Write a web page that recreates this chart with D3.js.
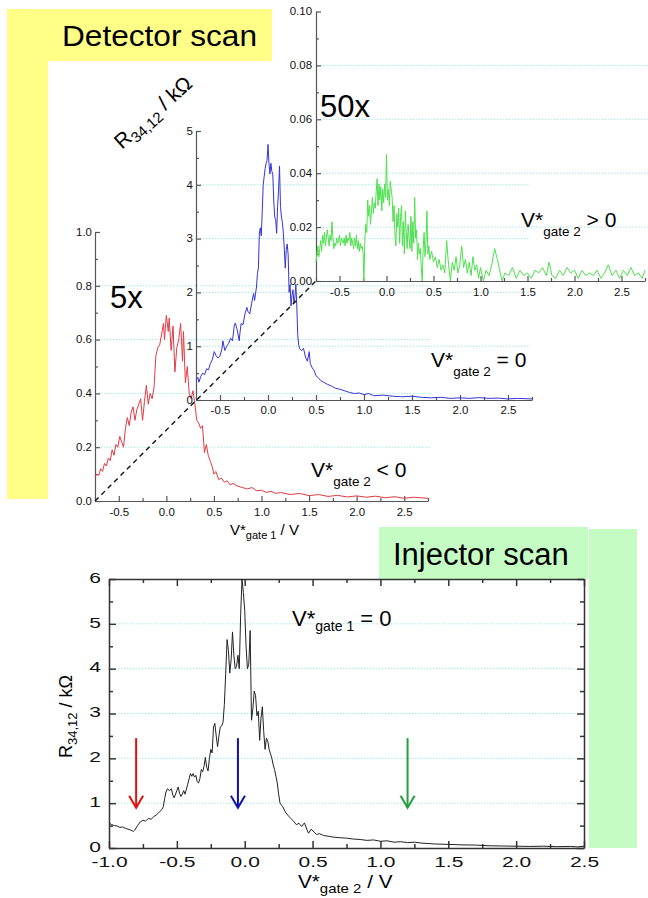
<!DOCTYPE html>
<html>
<head>
<meta charset="utf-8">
<script src="https://cdnjs.cloudflare.com/ajax/libs/d3/7.8.5/d3.min.js"></script>
<style>
  body { margin: 0; background: #fff; }
  svg { display: block; font-family: "Liberation Sans", Arial, sans-serif; }
</style>
</head>
<body>
<div id="fig"></div>
<script>
// ---- data: [V*, R in kOhm] ----

// detector scan, V*gate2 < 0 (red)
var redCurve = [[-0.75,0.09],[-0.73,0.10],[-0.71,0.095],[-0.69,0.12],[-0.67,0.11],[-0.65,0.14],[-0.63,0.13],[-0.61,0.16],[-0.59,0.15],[-0.57,0.19],[-0.55,0.17],[-0.53,0.21],[-0.51,0.20],[-0.49,0.24],[-0.47,0.22],[-0.45,0.20],[-0.43,0.27],[-0.41,0.31],[-0.39,0.28],[-0.37,0.33],[-0.35,0.35],[-0.33,0.30],[-0.31,0.34],[-0.29,0.36],[-0.27,0.38],[-0.25,0.30],[-0.23,0.37],[-0.21,0.43],[-0.19,0.36],[-0.17,0.40],[-0.15,0.38],[-0.13,0.42],[-0.11,0.54],[-0.09,0.57],[-0.07,0.58],[-0.05,0.62],[-0.03,0.66],[-0.02,0.60],[0.00,0.69],[0.02,0.63],[0.03,0.68],[0.05,0.56],[0.07,0.65],[0.09,0.48],[0.11,0.57],[0.13,0.60],[0.15,0.66],[0.17,0.52],[0.18,0.63],[0.20,0.44],[0.22,0.50],[0.24,0.40],[0.26,0.38],[0.28,0.41],[0.30,0.36],[0.32,0.30],[0.34,0.29],[0.36,0.27],[0.38,0.28],[0.40,0.18],[0.42,0.21],[0.44,0.17],[0.46,0.15],[0.48,0.13],[0.50,0.10],[0.52,0.11],[0.55,0.08],[0.58,0.085],[0.61,0.07],[0.64,0.075],[0.67,0.06],[0.70,0.065],[0.75,0.055],[0.80,0.05],[0.85,0.045],[0.90,0.05],[0.95,0.038],[1.00,0.04],[1.05,0.032],[1.10,0.036],[1.15,0.028],[1.20,0.032],[1.30,0.024],[1.40,0.028],[1.50,0.02],[1.60,0.024],[1.70,0.017],[1.80,0.021],[1.90,0.015],[2.00,0.019],[2.10,0.014],[2.20,0.018],[2.30,0.012],[2.40,0.016],[2.50,0.01],[2.60,0.014],[2.75,0.01]];

// detector scan, V*gate2 = 0 (blue)
var blueCurve = [[-0.75,0.37],[-0.73,0.42],[-0.72,0.33],[-0.70,0.44],[-0.68,0.50],[-0.66,0.47],[-0.64,0.58],[-0.62,0.56],[-0.60,0.68],[-0.58,0.75],[-0.56,0.90],[-0.54,0.82],[-0.52,0.78],[-0.50,0.82],[-0.48,0.95],[-0.47,1.10],[-0.45,0.92],[-0.43,1.00],[-0.41,1.05],[-0.39,1.15],[-0.37,1.10],[-0.35,1.40],[-0.34,1.43],[-0.32,1.30],[-0.30,1.10],[-0.29,1.28],[-0.28,1.42],[-0.26,1.40],[-0.24,1.60],[-0.22,1.72],[-0.21,1.65],[-0.19,1.60],[-0.17,1.80],[-0.15,1.98],[-0.14,1.85],[-0.12,2.10],[-0.11,2.35],[-0.10,2.45],[-0.09,3.10],[-0.08,3.20],[-0.07,3.05],[-0.06,3.50],[-0.05,4.00],[-0.04,4.15],[-0.03,4.30],[-0.02,4.40],[-0.01,4.45],[0.00,4.75],[0.01,4.40],[0.02,4.20],[0.03,4.40],[0.04,4.25],[0.05,4.20],[0.06,3.70],[0.07,3.40],[0.08,3.35],[0.09,3.10],[0.10,3.60],[0.11,3.90],[0.12,4.35],[0.13,3.60],[0.14,3.40],[0.15,3.30],[0.16,3.10],[0.17,2.80],[0.18,2.45],[0.19,2.80],[0.20,2.90],[0.21,2.70],[0.22,2.00],[0.23,2.15],[0.24,1.75],[0.25,1.95],[0.26,2.05],[0.27,1.80],[0.28,1.90],[0.29,2.15],[0.30,1.75],[0.31,1.20],[0.32,1.02],[0.33,0.95],[0.35,0.92],[0.37,0.96],[0.39,0.80],[0.41,0.72],[0.43,0.90],[0.44,0.68],[0.46,0.60],[0.48,0.55],[0.50,0.45],[0.52,0.42],[0.55,0.36],[0.58,0.33],[0.62,0.29],[0.66,0.26],[0.70,0.22],[0.75,0.20],[0.80,0.17],[0.85,0.14],[0.90,0.12],[0.95,0.13],[1.00,0.10],[1.05,0.12],[1.10,0.08],[1.20,0.09],[1.30,0.07],[1.40,0.06],[1.50,0.07],[1.60,0.05],[1.70,0.04],[1.80,0.05],[1.90,0.03],[2.00,0.04],[2.10,0.03],[2.20,0.045],[2.30,0.03],[2.40,0.035],[2.50,0.02],[2.60,0.03],[2.75,0.02]];

// detector scan, V*gate2 > 0 (green)
var greenCurve = [[-0.75,0.007],[-0.74,0.010],[-0.73,0.013],[-0.72,0.009],[-0.71,0.012],[-0.70,0.015],[-0.69,0.011],[-0.68,0.017],[-0.67,0.014],[-0.66,0.018],[-0.65,0.013],[-0.64,0.016],[-0.63,0.019],[-0.62,0.016],[-0.61,0.013],[-0.60,0.017],[-0.59,0.015],[-0.58,0.022],[-0.57,0.016],[-0.56,0.012],[-0.55,0.014],[-0.54,0.013],[-0.53,0.016],[-0.52,0.014],[-0.51,0.015],[-0.50,0.017],[-0.49,0.013],[-0.48,0.016],[-0.47,0.015],[-0.46,0.014],[-0.45,0.016],[-0.44,0.013],[-0.43,0.017],[-0.42,0.014],[-0.41,0.016],[-0.40,0.015],[-0.39,0.018],[-0.38,0.013],[-0.37,0.016],[-0.36,0.014],[-0.35,0.012],[-0.34,0.016],[-0.33,0.013],[-0.32,0.017],[-0.31,0.012],[-0.30,0.015],[-0.29,0.011],[-0.28,0.014],[-0.27,0.012],[-0.26,0.013],[-0.25,0.011],[-0.24,0.000],[-0.23,0.016],[-0.22,0.021],[-0.21,0.018],[-0.20,0.030],[-0.19,0.024],[-0.18,0.028],[-0.17,0.021],[-0.16,0.026],[-0.15,0.031],[-0.14,0.025],[-0.13,0.029],[-0.12,0.027],[-0.11,0.033],[-0.10,0.038],[-0.09,0.028],[-0.08,0.036],[-0.07,0.030],[-0.06,0.035],[-0.05,0.026],[-0.04,0.034],[-0.03,0.029],[-0.02,0.036],[-0.01,0.031],[0.00,0.047],[0.01,0.030],[0.02,0.034],[0.03,0.028],[0.04,0.037],[0.05,0.034],[0.06,0.031],[0.07,0.022],[0.08,0.028],[0.09,0.017],[0.10,0.013],[0.11,0.025],[0.12,0.020],[0.13,0.027],[0.14,0.014],[0.15,0.024],[0.16,0.028],[0.17,0.013],[0.18,0.022],[0.19,0.010],[0.20,0.026],[0.21,0.018],[0.22,0.012],[0.23,0.021],[0.24,0.016],[0.25,0.012],[0.26,0.024],[0.27,0.011],[0.28,0.022],[0.29,0.014],[0.30,0.031],[0.31,0.016],[0.32,0.019],[0.33,0.008],[0.34,0.014],[0.35,0.010],[0.36,0.012],[0.37,0.005],[0.38,0.000],[0.39,0.012],[0.40,0.018],[0.41,0.009],[0.42,0.014],[0.43,0.026],[0.44,0.010],[0.45,0.013],[0.46,0.008],[0.48,0.011],[0.50,0.007],[0.52,0.009],[0.54,0.005],[0.56,0.008],[0.58,0.004],[0.60,0.006],[0.62,0.003],[0.64,0.015],[0.66,0.006],[0.68,0.000],[0.70,0.007],[0.72,0.004],[0.74,0.009],[0.76,0.003],[0.78,0.006],[0.80,0.013],[0.82,0.005],[0.84,0.008],[0.86,0.003],[0.88,0.007],[0.90,0.002],[0.92,0.009],[0.94,0.004],[0.96,0.006],[0.98,0.001],[1.00,0.005],[1.03,0.000],[1.06,0.004],[1.09,0.002],[1.12,0.006],[1.15,0.012],[1.18,0.008],[1.21,0.003],[1.23,0.000],[1.26,0.003],[1.30,0.002],[1.34,0.005],[1.38,0.001],[1.42,0.004],[1.46,0.002],[1.50,0.003],[1.54,0.001],[1.58,0.004],[1.62,0.003],[1.66,0.005],[1.70,0.002],[1.73,0.007],[1.76,0.002],[1.80,0.001],[1.84,0.004],[1.88,0.002],[1.92,0.005],[1.96,0.003],[2.00,0.004],[2.04,0.001],[2.08,0.004],[2.12,0.002],[2.16,0.003],[2.20,0.002],[2.24,0.004],[2.28,0.001],[2.32,0.003],[2.36,0.006],[2.40,0.002],[2.44,0.004],[2.48,0.001],[2.52,0.004],[2.56,0.002],[2.60,0.005],[2.64,0.002],[2.68,0.003],[2.72,0.001],[2.75,0.004]];

// injector scan, V*gate1 = 0 (black)
var blackCurve = [[-1.00,0.56],[-0.98,0.52],[-0.96,0.50],[-0.94,0.49],[-0.92,0.46],[-0.90,0.47],[-0.88,0.44],[-0.86,0.42],[-0.84,0.40],[-0.82,0.37],[-0.81,0.40],[-0.79,0.50],[-0.77,0.58],[-0.75,0.62],[-0.73,0.60],[-0.71,0.66],[-0.69,0.64],[-0.67,0.70],[-0.65,0.74],[-0.63,0.80],[-0.61,0.86],[-0.60,0.92],[-0.59,1.10],[-0.58,1.25],[-0.57,1.32],[-0.555,1.28],[-0.54,1.32],[-0.53,1.18],[-0.52,1.12],[-0.50,1.28],[-0.49,1.36],[-0.48,1.22],[-0.47,1.15],[-0.46,1.20],[-0.45,1.28],[-0.44,1.20],[-0.42,1.42],[-0.40,1.66],[-0.39,1.60],[-0.38,1.66],[-0.37,1.58],[-0.36,1.62],[-0.35,1.48],[-0.34,1.45],[-0.33,1.55],[-0.32,1.75],[-0.31,1.70],[-0.30,1.82],[-0.29,2.02],[-0.28,1.80],[-0.27,1.72],[-0.26,2.00],[-0.25,2.20],[-0.24,2.12],[-0.23,2.70],[-0.22,2.78],[-0.21,2.50],[-0.20,2.26],[-0.19,2.50],[-0.18,2.70],[-0.17,2.72],[-0.16,2.80],[-0.15,3.20],[-0.14,3.90],[-0.13,4.65],[-0.12,4.40],[-0.11,3.90],[-0.10,4.20],[-0.09,4.82],[-0.08,4.30],[-0.07,4.00],[-0.06,4.05],[-0.05,4.30],[-0.04,4.00],[-0.03,5.20],[-0.02,6.00],[-0.01,5.70],[0.00,5.30],[0.01,4.50],[0.02,4.00],[0.03,4.10],[0.04,4.85],[0.05,2.85],[0.06,3.10],[0.07,3.50],[0.08,3.40],[0.09,2.95],[0.10,3.05],[0.11,2.40],[0.12,2.90],[0.13,3.15],[0.14,2.60],[0.15,2.20],[0.16,2.45],[0.17,2.38],[0.18,2.20],[0.19,2.10],[0.20,2.00],[0.21,1.85],[0.22,1.75],[0.23,1.60],[0.24,1.45],[0.25,1.20],[0.26,1.00],[0.28,0.92],[0.30,0.80],[0.32,0.72],[0.34,0.66],[0.36,0.60],[0.38,0.52],[0.40,0.55],[0.42,0.48],[0.44,0.56],[0.46,0.40],[0.47,0.33],[0.49,0.42],[0.51,0.36],[0.53,0.30],[0.55,0.32],[0.58,0.28],[0.62,0.26],[0.66,0.24],[0.70,0.23],[0.75,0.22],[0.80,0.20],[0.85,0.19],[0.90,0.17],[0.95,0.18],[1.00,0.15],[1.05,0.16],[1.10,0.13],[1.15,0.14],[1.20,0.12],[1.25,0.13],[1.30,0.11],[1.35,0.10],[1.40,0.09],[1.50,0.08],[1.60,0.07],[1.70,0.065],[1.80,0.05],[1.90,0.045],[2.00,0.04],[2.10,0.035],[2.20,0.04],[2.30,0.03],[2.40,0.035],[2.45,0.025],[2.50,0.04]];

// arrows in the injector scan: V*gate2 where the three detector scans were taken
var arrowV = [-0.8, -0.05, 1.2];
var arrowColors = ["#e01010", "#1010b0", "#22a040"];
var arrowTop = 2.45, arrowTip = 0.9;

// ticks
var detXMajor = [-0.5, 0, 0.5, 1, 1.5, 2, 2.5];
var detXMinor = [-0.75, -0.25, 0.25, 0.75, 1.25, 1.75, 2.25, 2.75];
var redYMajor = [0, 0.2, 0.4, 0.6, 0.8, 1.0];
var redYMinor = [0.1, 0.3, 0.5, 0.7, 0.9];
var blueYMajor = [0, 1, 2, 3, 4, 5];
var blueYMinor = [0.5, 1.5, 2.5, 3.5, 4.5];
var greenYMajor = [0, 0.02, 0.04, 0.06, 0.08, 0.10];
var greenYMinor = [0.01, 0.03, 0.05, 0.07, 0.09];
var injXMajor = [-1, -0.5, 0, 0.5, 1, 1.5, 2, 2.5];
var injXMinor = [-0.75, -0.25, 0.25, 0.75, 1.25, 1.75, 2.25];
var injYMajor = [0, 1, 2, 3, 4, 5, 6];
var injYMinor = [0.5, 1.5, 2.5, 3.5, 4.5, 5.5];

var svg = d3.select("#fig").append("svg")
    .attr("width", 648)
    .attr("height", 898);

svg.append("rect").attr("width", 648).attr("height", 898).attr("fill", "#fff");

// coloured slide panels
var yellow = "#ffff88", mint = "#c4fcc4";
svg.append("rect").attr("x", 7).attr("y", 9).attr("width", 265).attr("height", 52).attr("fill", yellow);
svg.append("rect").attr("x", 7).attr("y", 60).attr("width", 41).attr("height", 439).attr("fill", yellow);
svg.append("rect").attr("x", 379).attr("y", 527).attr("width", 209).attr("height", 52).attr("fill", mint);
svg.append("rect").attr("x", 589).attr("y", 529).attr("width", 48).attr("height", 319).attr("fill", mint);

svg.append("text").attr("x", 62).attr("y", 46)
    .attr("font-size", 30).attr("textLength", 195).attr("lengthAdjust", "spacingAndGlyphs")
    .text("Detector scan");
svg.append("text").attr("x", 393).attr("y", 565)
    .attr("font-size", 31)
    .text("Injector scan");

var fmt1 = function(d) { return d.toFixed(1); };
var fmt2 = function(d) { return d.toFixed(2); };
var fmt0 = function(d) { return d.toFixed(0); };

// one panel with inward ticks
function panel(c) {
  var g = svg.append("g");
  var x = d3.scaleLinear().domain(c.xDom).range(c.xRange);
  var y = d3.scaleLinear().domain(c.yDom).range(c.yRange);
  var y0 = c.yRange[0], x0 = c.xRange[0];

  // dotted grid
  g.append("g").selectAll("line").data(c.grid).join("line")
      .attr("x1", c.gridX[0]).attr("x2", c.gridX[1])
      .attr("y1", function(d) { return y(d); })
      .attr("y2", function(d) { return y(d); })
      .attr("stroke", "#a8e6e6").attr("stroke-width", 1)
      .attr("stroke-dasharray", "1.5,1.5");

  // minor ticks
  g.append("g").attr("transform", "translate(0," + y0 + ")")
      .call(d3.axisBottom(x).tickValues(c.xMinor).tickFormat("").tickSizeInner(-c.minor).tickSizeOuter(0))
      .call(function(s) { s.select(".domain").remove(); });
  g.append("g").attr("transform", "translate(" + x0 + ",0)")
      .call(d3.axisLeft(y).tickValues(c.yMinor).tickFormat("").tickSizeInner(-c.minor).tickSizeOuter(0))
      .call(function(s) { s.select(".domain").remove(); });

  // major ticks + labels
  var ax = g.append("g").attr("transform", "translate(0," + y0 + ")")
      .call(d3.axisBottom(x).tickValues(c.xMajor).tickFormat(c.xFmt)
        .tickSizeInner(-c.major).tickSizeOuter(0).tickPadding(c.xPad));
  var ay = g.append("g").attr("transform", "translate(" + x0 + ",0)")
      .call(d3.axisLeft(y).tickValues(c.yMajor).tickFormat(c.yFmt)
        .tickSizeInner(-c.major).tickSizeOuter(0).tickPadding(c.yPad));
  ay.selectAll(".tick text").attr("x", -c.yPad / c.stretch).attr("dy", c.yDy || "0.32em");

  if (c.box) {
    g.append("g").attr("transform", "translate(0," + c.yRange[1] + ")")
        .call(d3.axisTop(x).tickValues(c.xMajor).tickFormat("").tickSizeInner(-c.major).tickSizeOuter(0));
    g.append("g").attr("transform", "translate(0," + c.yRange[1] + ")")
        .call(d3.axisTop(x).tickValues(c.xMinor).tickFormat("").tickSizeInner(-c.minor).tickSizeOuter(0))
        .call(function(s) { s.select(".domain").remove(); });
    g.append("g").attr("transform", "translate(" + c.xRange[1] + ",0)")
        .call(d3.axisRight(y).tickValues(c.yMajor).tickFormat("").tickSizeInner(-c.major).tickSizeOuter(0));
    g.append("g").attr("transform", "translate(" + c.xRange[1] + ",0)")
        .call(d3.axisRight(y).tickValues(c.yMinor).tickFormat("").tickSizeInner(-c.minor).tickSizeOuter(0))
        .call(function(s) { s.select(".domain").remove(); });
  }

  g.selectAll(".domain, .tick line").attr("stroke", c.axisColor).attr("stroke-width", c.axisWidth);
  g.selectAll(".tick text")
      .attr("font-family", "Liberation Sans, Arial, sans-serif")
      .attr("font-size", c.fontSize)
      .attr("fill", "#111")
      .attr("transform", "scale(" + c.stretch + ",1)");

  // curve
  g.append("path").datum(c.data)
      .attr("fill", "none")
      .attr("stroke", c.color)
      .attr("stroke-width", c.lineWidth)
      .attr("stroke-linejoin", "round")
      .attr("d", d3.line().x(function(d) { return x(d[0]); }).y(function(d) { return y(d[1]); }));

  return { g: g, x: x, y: y };
}

var det = { xDom: [-0.75, 2.75], xMajor: detXMajor, xMinor: detXMinor, xFmt: fmt1,
            major: 5, minor: 3, axisColor: "#555", axisWidth: 1.2, fontSize: 10, stretch: 1.15,
            lineWidth: 1, yPad: 3, xPad: 8 };

var red = panel(Object.assign({}, det, {
  xRange: [95, 428], yDom: [0, 1], yRange: [501, 232],
  yMajor: redYMajor, yMinor: redYMinor, yFmt: fmt1,
  grid: [0.2, 0.4, 0.6, 0.8], gridX: [98, 430],
  data: redCurve, color: "#e23a44"
}));

var blue = panel(Object.assign({}, det, {
  xRange: [196, 532], yDom: [0, 5], yRange: [400, 131],
  yMajor: blueYMajor, yMinor: blueYMinor, yFmt: fmt0, xPad: 7,
  grid: [1, 2, 3, 4], gridX: [200, 530],
  data: blueCurve, color: "#3434d6"
}));

// dashed line linking the origins of the three detector panels
var greenX = d3.scaleLinear().domain([-0.75, 2.75]).range([316, 645]);
var greenY = d3.scaleLinear().domain([0, 0.1]).range([281, 11.5]);
svg.append("line")
    .attr("x1", red.x(-0.75)).attr("y1", red.y(0))
    .attr("x2", greenX(-0.75)).attr("y2", greenY(0))
    .attr("stroke", "#111").attr("stroke-width", 1.4)
    .attr("stroke-dasharray", "5,4");

var green = panel(Object.assign({}, det, {
  xRange: greenX.range(), yDom: [0, 0.1], yRange: greenY.range(),
  yMajor: greenYMajor, yMinor: greenYMinor, yFmt: fmt2, yPad: 4,
  grid: [0.02, 0.04, 0.06, 0.08], gridX: [320, 648],
  data: greenCurve, color: "#4ee04e"
}));

var inj = panel({
  xDom: [-1, 2.5], xRange: [109, 584], yDom: [0, 6], yRange: [848, 579],
  xMajor: injXMajor, xMinor: injXMinor, xFmt: fmt1,
  yMajor: injYMajor, yMinor: injYMinor, yFmt: fmt0, yDy: "0.22em",
  major: 7, minor: 4, axisColor: "#333", axisWidth: 1.5, fontSize: 14.5, stretch: 1.45,
  lineWidth: 1, yPad: 8, xPad: 9, box: true,
  grid: [1, 2, 3, 4, 5], gridX: [118, 575],
  data: blackCurve, color: "#222"
});

// arrows
arrowV.forEach(function(v, i) {
  var ax = inj.x(v), yt = inj.y(arrowTop), yb = inj.y(arrowTip);
  var a = svg.append("g").attr("stroke", arrowColors[i]).attr("stroke-width", 2).attr("fill", "none");
  a.append("line").attr("x1", ax).attr("x2", ax).attr("y1", yt).attr("y2", yb);
  a.append("polyline").attr("points", [[ax - 7, yb - 12], [ax, yb], [ax + 7, yb - 12]].join(" "));
});

// text with a subscript part
function subLabel(parent, x, y, size, subSize, drop, main, sub, tail) {
  var t = parent.append("text").attr("x", x).attr("y", y).attr("font-size", size).attr("fill", "#000");
  t.append("tspan").text(main);
  t.append("tspan").attr("dy", drop).attr("font-size", subSize).text(sub);
  t.append("tspan").attr("dy", -drop).text(tail);
  return t;
}

subLabel(svg, 311, 477, 21, 13.5, 9, "V*", "gate 2", " < 0");
subLabel(svg, 431, 367, 21, 13.5, 9, "V*", "gate 2", " = 0");
subLabel(svg, 521, 227, 21, 13.5, 9, "V*", "gate 2", " > 0");
subLabel(svg, 292, 626, 22, 14, 5, "V*", "gate 1", " = 0");

svg.append("text").attr("x", 110).attr("y", 308).attr("font-size", 31).text("5x");
svg.append("text").attr("x", 320).attr("y", 117).attr("font-size", 31).text("50x");

// axis titles
subLabel(svg, 230, 535, 15, 11, 4, "V*", "gate 1", " / V");
subLabel(svg.append("g").attr("transform", "translate(298,888) scale(1.15,1)"), 0, 0, 18, 13, 5, "V*", "gate 2", " / V");
subLabel(svg.append("g").attr("transform", "translate(122,150) rotate(-42)"), 0, 0, 21, 15, 5, "R", "34,12", " / k\u03A9");
subLabel(svg.append("g").attr("transform", "translate(72,758) rotate(-90)"), 0, 0, 18, 13, 5, "R", "34,12", " / k\u03A9");
</script>
</body>
</html>
